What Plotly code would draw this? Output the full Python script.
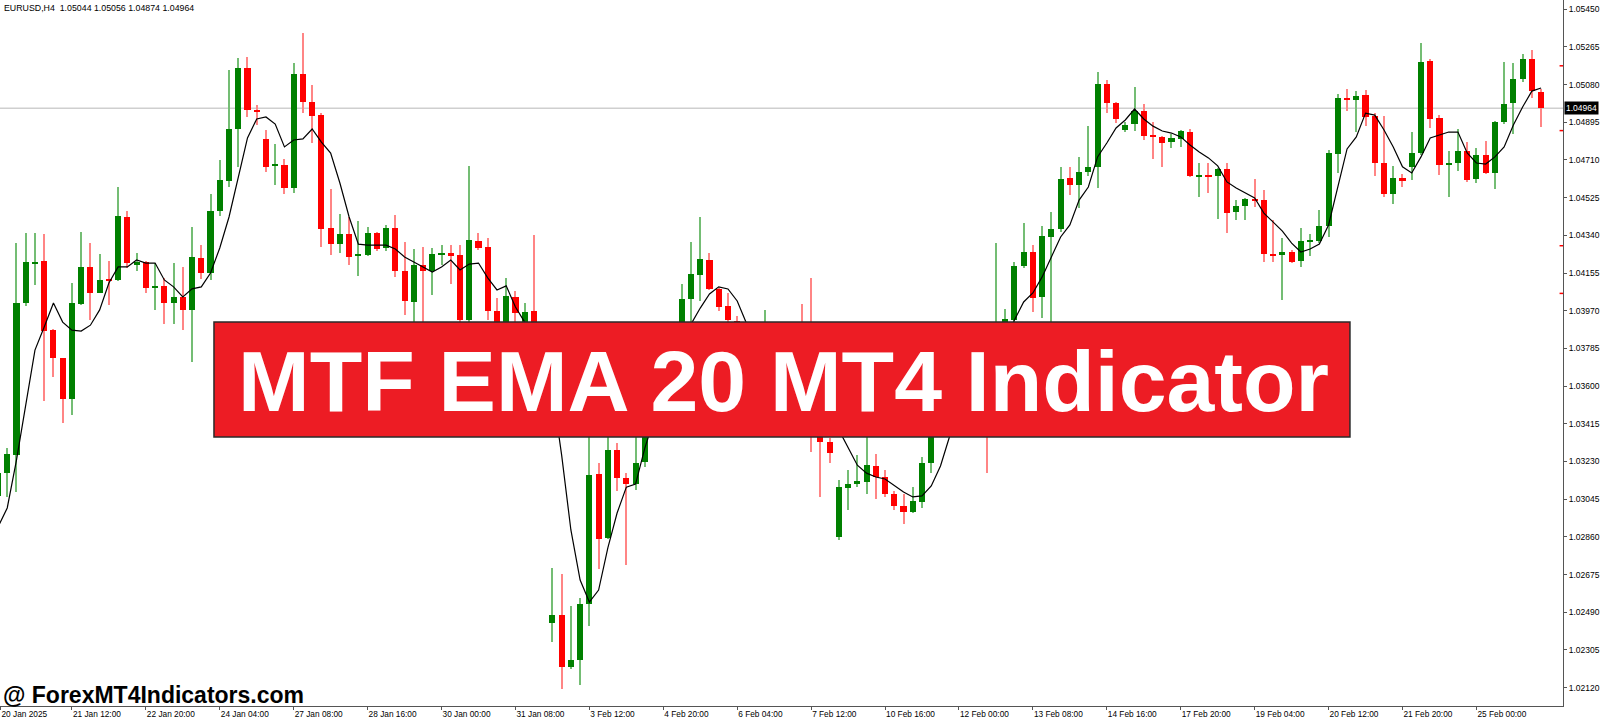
import plotly.graph_objects as go

# ---------------- data (EURUSD H4) ----------------
opens = [1.03061, 1.03173, 1.03261, 1.04008, 1.04204, 1.04214, 1.03875, 1.03738, 1.03537, 1.04003,
         1.04185, 1.04057, 1.04126, 1.04121, 1.04430, 1.04199, 1.04209, 1.04082, 1.04092, 1.04008,
         1.04038, 1.03974, 1.04229, 1.04155, 1.04459, 1.04607, 1.04862, 1.05161, 1.04955, 1.04813,
         1.04681, 1.04686, 1.04573, 1.05131, 1.04994, 1.04930, 1.04376, 1.04297, 1.04346, 1.04239,
         1.04243, 1.04351, 1.04278, 1.04376, 1.04165, 1.04013, 1.04194, 1.04165, 1.04248, 1.04253,
         1.04243, 1.03924, 1.04312, 1.04283, 1.03969, 1.03865, 1.04038, 1.03895, 1.03969, 1.03826,
         1.02437, 1.02477, 1.02222, 1.02256, 1.02530, 1.03168, 1.02855, 1.03286, 1.03149, 1.03119,
         1.03227, 1.03434, 1.03556, 1.03679, 1.03826, 1.04028, 1.04145, 1.04219, 1.04077, 1.03994,
         1.03919, 1.03801, 1.03728, 1.03630, 1.03777, 1.03718, 1.03787, 1.03826, 1.03718, 1.03532,
         1.03325, 1.02860, 1.03100, 1.03119, 1.03129, 1.03208, 1.03154, 1.03070, 1.03011, 1.02982,
         1.03031, 1.03222, 1.03409, 1.03532, 1.03605, 1.03556, 1.03679, 1.03581, 1.03483, 1.03801,
         1.03924, 1.04189, 1.04258, 1.04038, 1.04332, 1.04371, 1.04622, 1.04587, 1.04651, 1.04676,
         1.05083, 1.04989, 1.04857, 1.04886, 1.04950, 1.04828, 1.04823, 1.04798, 1.04813, 1.04847,
         1.04631, 1.04636, 1.04631, 1.04666, 1.04454, 1.04484, 1.04518, 1.04513, 1.04248, 1.04243,
         1.04258, 1.04214, 1.04312, 1.04312, 1.04386, 1.04739, 1.05014, 1.05004, 1.05029, 1.04925,
         1.04695, 1.04543, 1.04622, 1.04676, 1.04744, 1.05196, 1.04916, 1.04686, 1.04695, 1.04754,
         1.04617, 1.04734, 1.04646, 1.04896, 1.04989, 1.05107, 1.05205, 1.05044]

highs = [1.03188, 1.03296, 1.04302, 1.04351, 1.04351, 1.04346, 1.03880, 1.03740, 1.04106, 1.04356,
         1.04302, 1.04248, 1.04214, 1.04578, 1.04459, 1.04253, 1.04212, 1.04204, 1.04131, 1.04204,
         1.04185, 1.04381, 1.04292, 1.04542, 1.04710, 1.05151, 1.05211, 1.05216, 1.04980, 1.04857,
         1.04788, 1.04715, 1.05186, 1.05333, 1.05078, 1.04940, 1.04567, 1.04444, 1.04430, 1.04410,
         1.04381, 1.04356, 1.04391, 1.04440, 1.04307, 1.04273, 1.04283, 1.04278, 1.04292, 1.04292,
         1.04292, 1.04681, 1.04351, 1.04327, 1.04033, 1.04131, 1.04067, 1.04008, 1.04342, 1.03865,
         1.02708, 1.02677, 1.02520, 1.02560, 1.03385, 1.03222, 1.03410, 1.03321, 1.03173, 1.03385,
         1.03473, 1.03581, 1.03703, 1.03850, 1.04101, 1.04307, 1.04430, 1.04253, 1.04080, 1.04057,
         1.03944, 1.03836, 1.03767, 1.03974, 1.03816, 1.03826, 1.03875, 1.04003, 1.04131, 1.03571,
         1.03345, 1.03139, 1.03188, 1.03261, 1.03410, 1.03266, 1.03188, 1.03085, 1.03070, 1.03104,
         1.03252, 1.03444, 1.03571, 1.03679, 1.03654, 1.03728, 1.03718, 1.03620, 1.04302, 1.03979,
         1.04209, 1.04400, 1.04292, 1.04386, 1.04454, 1.04676, 1.04676, 1.04725, 1.04876, 1.05142,
         1.05102, 1.04992, 1.04896, 1.05068, 1.04984, 1.04896, 1.04826, 1.04837, 1.04857, 1.04862,
         1.04695, 1.04695, 1.04671, 1.04695, 1.04513, 1.04523, 1.04617, 1.04562, 1.04415, 1.04327,
         1.04268, 1.04376, 1.04346, 1.04464, 1.04759, 1.05034, 1.05058, 1.05048, 1.05053, 1.04940,
         1.04925, 1.04681, 1.04641, 1.04847, 1.05284, 1.05205, 1.04930, 1.04754, 1.04862, 1.04798,
         1.04769, 1.04803, 1.04899, 1.05191, 1.05186, 1.05230, 1.05250, 1.05056]

lows = [1.03041, 1.03056, 1.03080, 1.03994, 1.04096, 1.03527, 1.03645, 1.03419, 1.03458, 1.04000,
        1.03924, 1.04055, 1.03998, 1.04118, 1.04180, 1.04165, 1.04057, 1.03974, 1.03904, 1.03904,
        1.03875, 1.03718, 1.04126, 1.04121, 1.04435, 1.04577, 1.04676, 1.04921, 1.04881, 1.04651,
        1.04587, 1.04543, 1.04548, 1.04940, 1.04793, 1.04283, 1.04243, 1.04253, 1.04194, 1.04141,
        1.04240, 1.04263, 1.04263, 1.04136, 1.03949, 1.03914, 1.03914, 1.04047, 1.04194, 1.04101,
        1.03914, 1.03914, 1.04268, 1.03924, 1.03826, 1.03845, 1.03914, 1.03865, 1.03787, 1.03703,
        1.02344, 1.02113, 1.02212, 1.02133, 1.02422, 1.02703, 1.02852, 1.03085, 1.02722, 1.03090,
        1.03203, 1.03395, 1.03522, 1.03640, 1.03801, 1.03899, 1.04018, 1.04072, 1.03969, 1.03909,
        1.03752, 1.03679, 1.03605, 1.03591, 1.03679, 1.03689, 1.03752, 1.03689, 1.03276, 1.03056,
        1.03222, 1.02845, 1.02992, 1.03104, 1.03070, 1.03046, 1.03056, 1.02992, 1.02923, 1.02977,
        1.03002, 1.03173, 1.03385, 1.03483, 1.03507, 1.03532, 1.03542, 1.03173, 1.03458, 1.03777,
        1.03875, 1.04180, 1.03964, 1.03934, 1.03875, 1.04356, 1.04538, 1.04474, 1.04631, 1.04572,
        1.04940, 1.04891, 1.04847, 1.04852, 1.04808, 1.04715, 1.04676, 1.04769, 1.04774, 1.04626,
        1.04528, 1.04548, 1.04420, 1.04351, 1.04415, 1.04415, 1.04479, 1.04209, 1.04209, 1.04023,
        1.04204, 1.04185, 1.04239, 1.04302, 1.04332, 1.04646, 1.04950, 1.04847, 1.04876, 1.04631,
        1.04528, 1.04494, 1.04577, 1.04612, 1.04734, 1.04867, 1.04636, 1.04528, 1.04656, 1.04602,
        1.04597, 1.04641, 1.04567, 1.04886, 1.04837, 1.05092, 1.05014, 1.04874]

closes = [1.03173, 1.03266, 1.04008, 1.04209, 1.04211, 1.03870, 1.03738, 1.03537, 1.04008, 1.04185,
          1.04057, 1.04121, 1.04116, 1.04435, 1.04204, 1.04207, 1.04082, 1.04092, 1.04008, 1.04038,
          1.03974, 1.04234, 1.04155, 1.04459, 1.04612, 1.04862, 1.05161, 1.04955, 1.04945, 1.04676,
          1.04686, 1.04573, 1.05131, 1.04994, 1.04925, 1.04371, 1.04297, 1.04346, 1.04234, 1.04245,
          1.04351, 1.04273, 1.04376, 1.04165, 1.04018, 1.04194, 1.04165, 1.04248, 1.04254, 1.04239,
          1.03924, 1.04317, 1.04278, 1.03969, 1.03865, 1.04043, 1.03959, 1.03964, 1.03826, 1.03752,
          1.02477, 1.02222, 1.02256, 1.02530, 1.03163, 1.02850, 1.03286, 1.03149, 1.03119, 1.03222,
          1.03434, 1.03556, 1.03679, 1.03826, 1.04028, 1.04150, 1.04224, 1.04077, 1.03988, 1.03924,
          1.03801, 1.03728, 1.03650, 1.03777, 1.03718, 1.03787, 1.03826, 1.03718, 1.03532, 1.03325,
          1.03271, 1.03104, 1.03119, 1.03134, 1.03212, 1.03154, 1.03070, 1.03011, 1.02982, 1.03036,
          1.03222, 1.03409, 1.03532, 1.03605, 1.03556, 1.03679, 1.03581, 1.03483, 1.03801, 1.03929,
          1.04189, 1.04258, 1.04033, 1.04337, 1.04371, 1.04617, 1.04587, 1.04651, 1.04676, 1.05083,
          1.04989, 1.04911, 1.04881, 1.04950, 1.04828, 1.04823, 1.04793, 1.04818, 1.04852, 1.04631,
          1.04636, 1.04626, 1.04666, 1.04449, 1.04484, 1.04518, 1.04513, 1.04248, 1.04239, 1.04258,
          1.04209, 1.04312, 1.04317, 1.04386, 1.04744, 1.05014, 1.05004, 1.05024, 1.04921, 1.04695,
          1.04543, 1.04622, 1.04607, 1.04744, 1.05191, 1.04911, 1.04686, 1.04695, 1.04754, 1.04612,
          1.04734, 1.04646, 1.04896, 1.04984, 1.05107, 1.05205, 1.05048, 1.04964]

ema20 = [1.02909, 1.03002, 1.03237, 1.03517, 1.03777, 1.03890, 1.04008, 1.03914, 1.03875, 1.03870,
         1.03899, 1.03974, 1.04106, 1.04185, 1.04185, 1.04219, 1.04204, 1.04204, 1.04121, 1.04087,
         1.04038, 1.04077, 1.04087, 1.04155, 1.04278, 1.04430, 1.04626, 1.04818, 1.04911, 1.04921,
         1.04886, 1.04774, 1.04808, 1.04813, 1.04862, 1.04798, 1.04744, 1.04597, 1.04430, 1.04297,
         1.04292, 1.04292, 1.04292, 1.04273, 1.04234, 1.04209, 1.04185, 1.04160, 1.04185, 1.04219,
         1.04170, 1.04199, 1.04204, 1.04131, 1.04072, 1.04092, 1.03988, 1.03914, 1.03850, 1.03777,
         1.03581, 1.03261, 1.02894, 1.02648, 1.02540, 1.02599, 1.02806, 1.02977, 1.03104, 1.03119,
         1.03296, 1.03444, 1.03581, 1.03703, 1.03826, 1.03904, 1.03983, 1.04052, 1.04087, 1.04077,
         1.04018, 1.03909, 1.03801, 1.03752, 1.03738, 1.03748, 1.03767, 1.03752, 1.03679, 1.03556,
         1.03444, 1.03385, 1.03296, 1.03212, 1.03173, 1.03154, 1.03144, 1.03114, 1.03080, 1.03056,
         1.03061, 1.03110, 1.03208, 1.03355, 1.03483, 1.03571, 1.03640, 1.03669, 1.03748, 1.03826,
         1.03924, 1.04013, 1.04057, 1.04136, 1.04234, 1.04332, 1.04391, 1.04513, 1.04577, 1.04725,
         1.04793, 1.04867, 1.04906, 1.04960, 1.04911, 1.04876, 1.04852, 1.04842, 1.04823, 1.04783,
         1.04749, 1.04720, 1.04681, 1.04602, 1.04572, 1.04548, 1.04523, 1.04449, 1.04405, 1.04361,
         1.04302, 1.04258, 1.04273, 1.04297, 1.04391, 1.04577, 1.04764, 1.04823, 1.04940, 1.04930,
         1.04857, 1.04774, 1.04676, 1.04646, 1.04725, 1.04818, 1.04833, 1.04847, 1.04847, 1.04744,
         1.04695, 1.04690, 1.04725, 1.04774, 1.04881, 1.04970, 1.05048, 1.05063]

time_labels = ["20 Jan 2025", "21 Jan 12:00", "22 Jan 20:00", "24 Jan 04:00", "27 Jan 08:00",
               "28 Jan 16:00", "30 Jan 00:00", "31 Jan 08:00", "3 Feb 12:00", "4 Feb 20:00",
               "6 Feb 04:00", "7 Feb 12:00", "10 Feb 16:00", "12 Feb 00:00", "13 Feb 08:00",
               "14 Feb 16:00", "17 Feb 20:00", "19 Feb 04:00", "20 Feb 12:00", "21 Feb 20:00",
               "25 Feb 00:00"]
time_label_bars = [0, 8, 16, 24, 32, 40, 48, 56, 64, 72, 80, 88, 96, 104, 112, 120, 128, 136,
                   144, 152, 160]

price_ticks = [1.02120, 1.02305, 1.02490, 1.02675, 1.02860, 1.03045, 1.03230, 1.03415, 1.03600,
               1.03785, 1.03970, 1.04155, 1.04340, 1.04525, 1.04710, 1.04895, 1.05080, 1.05265,
               1.05450]
price_tick_labels = ["1.02120", "1.02305", "1.02490", "1.02675", "1.02860", "1.03045", "1.03230",
                     "1.03415", "1.03600", "1.03785", "1.03970", "1.04155", "1.04340", "1.04525",
                     "1.04710", "1.04895", "1.05080", "1.05265", "1.05450"]

axis_marks = [1.05172, 1.04854, 1.04289, 1.04055]
symbol = "EURUSD,H4"
banner_text = "MTF EMA 20 MT4 Indicator"
watermark = "@ ForexMT4Indicators.com"

# ---------------- styling ----------------
X_RANGE = [0.216, 169.37]
Y_RANGE = [1.02030, 1.05495]
FONT = "Liberation Sans, Arial, sans-serif"
UP_BODY, DN_BODY = "#008000", "#ff0000"
UP_WICK, DN_WICK = "#74bd74", "#ff8585"

n = len(opens)
idx = list(range(n))
up = [closes[i] >= opens[i] for i in idx]

fig = go.Figure()

for flag, col in ((True, UP_WICK), (False, DN_WICK)):
    sel = [i for i in idx if up[i] == flag]
    fig.add_trace(go.Bar(
        x=sel, base=[lows[i] for i in sel], y=[highs[i] - lows[i] for i in sel],
        width=0.11, marker=dict(color=col, line=dict(width=0)),
        showlegend=False, hoverinfo="skip"))

for flag, col in ((True, UP_BODY), (False, DN_BODY)):
    sel = [i for i in idx if up[i] == flag]
    fig.add_trace(go.Bar(
        x=sel, base=[min(opens[i], closes[i]) for i in sel],
        y=[max(abs(closes[i] - opens[i]), 0.00005) for i in sel],
        width=0.66, marker=dict(color=col, line=dict(width=0)),
        showlegend=False, hoverinfo="skip"))

fig.add_trace(go.Scatter(x=idx, y=ema20, mode="lines",
                         line=dict(color="#000000", width=1.2),
                         showlegend=False, hoverinfo="skip"))

last_close = closes[-1]
shapes = [dict(type="line", xref="paper", x0=0, x1=1, yref="y", y0=last_close, y1=last_close,
               line=dict(color="#cfcfcf", width=1.5), layer="below")]
for lv in axis_marks:
    shapes.append(dict(type="line", xref="paper", x0=0.9978, x1=1.0, yref="y", y0=lv, y1=lv,
                       line=dict(color="#ff0000", width=1.5), layer="above"))
shapes.append(dict(type="rect", xref="paper", yref="paper", x0=0.1369, x1=0.8637,
                   y0=0.381, y1=0.544, fillcolor="#ED1C24",
                   line=dict(color="#2a2a2a", width=1.5), layer="above"))

header = "%s\u00a0\u00a0%.5f %.5f %.5f %.5f" % (symbol, opens[-1], highs[-1], lows[-1], closes[-1])

annotations = [
    dict(text="<b>%s</b>" % banner_text, xref="paper", yref="paper", x=0.5012, y=0.4600,
         xanchor="center", yanchor="middle", showarrow=False,
         font=dict(family=FONT, size=86, color="#ffffff")),
    dict(text="<b>%s</b>" % watermark, xref="paper", yref="paper", x=0, y=0,
         xanchor="left", yanchor="bottom", xshift=1, yshift=-4, showarrow=False,
         font=dict(family=FONT, size=23, color="#000000")),
    dict(text=header, xref="paper", yref="paper", x=0, y=1, xanchor="left", yanchor="top",
         xshift=2, yshift=-1, showarrow=False,
         font=dict(family=FONT, size=8.8, color="#000000")),
    dict(text="%.5f" % last_close, xref="paper", yref="y", x=1, y=last_close,
         xanchor="left", yanchor="middle", xshift=1, showarrow=False,
         bgcolor="#000000", borderpad=1,
         font=dict(family=FONT, size=8.5, color="#ffffff")),
]

tick_pos = [max(b, X_RANGE[0] + 0.05) for b in time_label_bars]

fig.update_layout(
    width=1600, height=721,
    margin=dict(l=0, r=37, t=0, b=15),
    paper_bgcolor="#ffffff", plot_bgcolor="#ffffff",
    barmode="overlay", bargap=0,
    shapes=shapes, annotations=annotations,
    showlegend=False,
    font=dict(family=FONT, color="#000000"),
    xaxis=dict(range=X_RANGE, showgrid=False, zeroline=False, showline=True,
               linecolor="#555555", linewidth=1, ticks="outside", ticklen=3,
               tickcolor="#555555", tickvals=tick_pos, ticktext=time_labels,
               ticklabelposition="outside right", tickfont=dict(size=8.3, family=FONT),
               automargin=False, fixedrange=True),
    yaxis=dict(range=Y_RANGE, side="right", showgrid=False, zeroline=False, showline=True,
               linecolor="#555555", linewidth=1, ticks="outside", ticklen=3,
               tickcolor="#555555", tickvals=price_ticks, ticktext=price_tick_labels,
               tickfont=dict(size=8.5, family=FONT), automargin=False, fixedrange=True),
)

fig.write_html("out.html", post_script="document.body.style.margin='0px';",
               config={"displayModeBar": False})
